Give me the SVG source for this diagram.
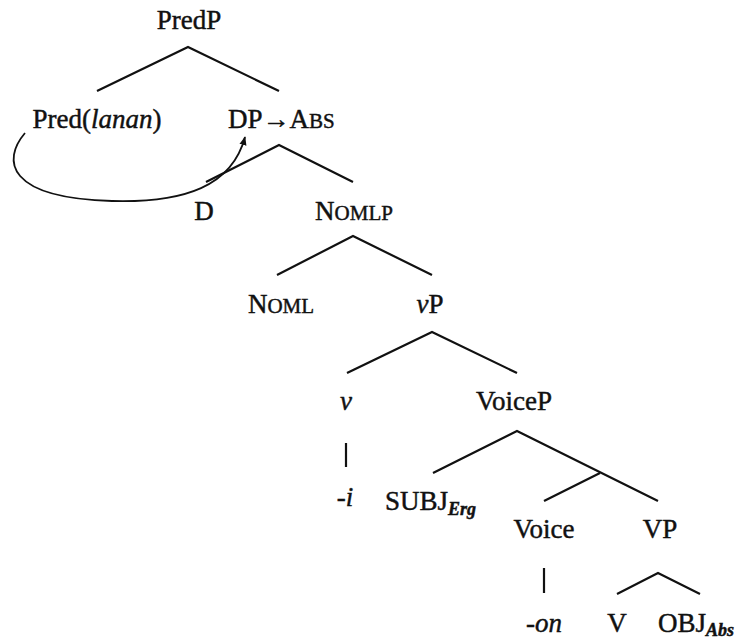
<svg xmlns="http://www.w3.org/2000/svg" width="744" height="639" viewBox="0 0 744 639">
  <style>
    text { font-family: "Liberation Serif", "Times New Roman", serif; font-size: 27px; fill: #111; stroke: #111; stroke-width: 0.45px; }
    .c { text-anchor: middle; }
    .it { font-style: italic; }
    .sc { font-size: 21px; }
    .sub { font-size: 18px; font-style: italic; font-weight: bold; }
    .edge { stroke: #111; stroke-width: 2.2; fill: none; stroke-linecap: butt; }
    .move { stroke: #111; stroke-width: 1.8; fill: none; }
  </style>
  <defs>
    <marker id="head" viewBox="0 0 10 10" refX="9" refY="5" markerWidth="9" markerHeight="9" markerUnits="userSpaceOnUse" orient="auto">
      <path d="M0,1 L10,5 L0,9 Z" fill="#111"/>
    </marker>
  </defs>
  <rect width="744" height="639" fill="#fff"/>

  <!-- tree edges -->
  <g id="connectors">
    <path class="edge" d="M97,91 L188,47 L279,91"/>
    <path class="edge" d="M206,182 L279,145 L353,182"/>
    <path class="edge" d="M277,275 L353,236 L432,275"/>
    <path class="edge" d="M347,373 L432,332 L517,373"/>
    <path class="edge" d="M346,443 L346,467"/>
    <path class="edge" d="M433,473 L517,431 L658,501"/>
    <path class="edge" d="M544,501 L600,473"/>
    <path class="edge" d="M544,568 L544,593"/>
    <path class="edge" d="M617,594 L658,573 L700,594"/>
    <!-- head movement of the predicate into DP -->
    <path class="move" d="M25,133 C2,160 6,198 112,201 C185,203 232,186 245,137" marker-end="url(#head)"/>
  </g>

  <g id="PredP"><text class="c" x="189" y="29">PredP</text></g>
  <g id="Pred"><text class="c" x="97" y="128">Pred(<tspan class="it">lanan</tspan>)</text></g>
  <g id="DP"><text x="228" y="128">DP→A<tspan class="sc">BS</tspan></text></g>
  <g id="D"><text class="c" x="204" y="220">D</text></g>
  <g id="NomlP"><text class="c" x="354" y="220">N<tspan class="sc">OMLP</tspan></text></g>
  <g id="Noml"><text class="c" x="281" y="313">N<tspan class="sc">OML</tspan></text></g>
  <g id="vP"><text class="c" x="430" y="313"><tspan class="it">v</tspan>P</text></g>
  <g id="v"><text class="c it" x="346" y="410">v</text></g>
  <g id="VoiceP"><text class="c" x="514" y="410">VoiceP</text></g>
  <g id="i"><text class="c it" x="345" y="506">-i</text></g>
  <g id="SUBJ"><text x="385" y="510">SUBJ<tspan class="sub" dy="5">Erg</tspan></text></g>
  <g id="Voice"><text class="c" x="544" y="538">Voice</text></g>
  <g id="VP"><text class="c" x="660" y="538">VP</text></g>
  <g id="on"><text class="c it" x="544" y="632">-on</text></g>
  <g id="V"><text class="c" x="617" y="632">V</text></g>
  <g id="OBJ"><text x="658" y="632">OBJ<tspan class="sub" dy="4">Abs</tspan></text></g>
</svg>
